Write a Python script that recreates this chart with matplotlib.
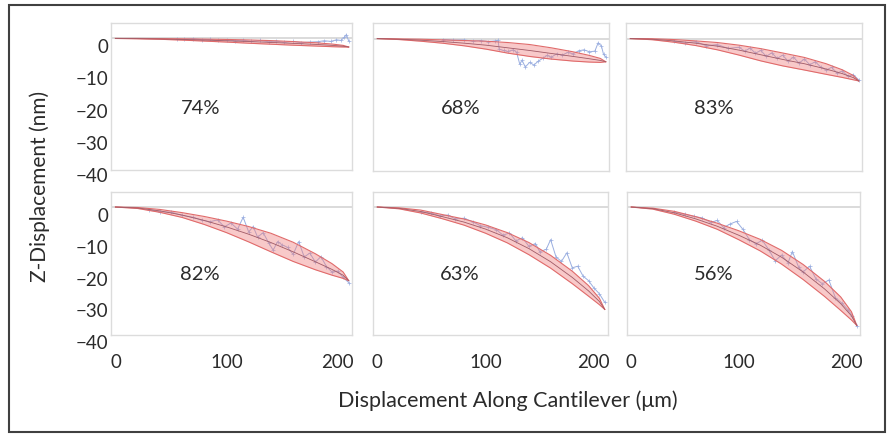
import matplotlib
matplotlib.use("Agg")
import matplotlib.pyplot as plt
from matplotlib.patches import Rectangle

W, H = 894, 434

# shared x grid for the fitted envelope (um)
fit_x = [0, 20, 40, 60, 80, 100, 120, 140, 160, 180, 195, 205, 210]

# envelope upper / lower bounds and centre fit per panel (nm)
upper_74 = [0, 0, -0.05, -0.1, -0.2, -0.3, -0.45, -0.65, -0.95, -1.3, -1.7, -2.1, -2.6]
lower_74 = [0, -0.1, -0.25, -0.5, -0.8, -1.1, -1.45, -1.75, -2.05, -2.3, -2.5, -2.6, -2.6]
mid_74 = [0, -0.05, -0.15, -0.3, -0.5, -0.7, -0.95, -1.2, -1.5, -1.8, -2.1, -2.35, -2.6]

upper_68 = [0, -0.1, -0.2, -0.4, -0.6, -0.8, -1.2, -1.8, -2.8, -4.0, -5.1, -6.0, -7.0]
lower_68 = [0, -0.3, -0.8, -1.4, -2.2, -3.2, -4.4, -5.4, -6.2, -6.8, -7.1, -7.2, -7.0]
mid_68 = [0, -0.2, -0.5, -0.9, -1.4, -2.0, -2.8, -3.6, -4.5, -5.4, -6.1, -6.6, -7.0]

upper_83 = [0, -0.05, -0.3, -0.7, -1.2, -2.0, -3.05, -4.35, -5.7, -7.6, -9.45, -11.15, -12.8]
lower_83 = [0, -0.35, -1.1, -2.1, -3.4, -5.0, -6.75, -8.25, -9.5, -10.8, -11.75, -12.45, -12.8]
mid_83 = [0, -0.2, -0.7, -1.4, -2.3, -3.5, -4.9, -6.3, -7.6, -9.2, -10.6, -11.8, -12.8]

upper_82 = [0, -0.15, -0.75, -1.75, -2.95, -4.4, -6.1, -8.2, -11.0, -14.6, -17.7, -20.3, -23.0]
lower_82 = [0, -0.45, -1.65, -3.25, -5.45, -8.0, -10.9, -14.0, -17.0, -19.6, -21.3, -22.3, -23.0]
mid_82 = [0, -0.3, -1.2, -2.5, -4.2, -6.2, -8.5, -11.1, -14.0, -17.1, -19.5, -21.3, -23.0]

upper_63 = [0, -0.25, -0.95, -2.35, -3.75, -5.6, -8.0, -11.1, -15.1, -20.05, -24.55, -28.5, -32.0]
lower_63 = [0, -0.55, -1.85, -3.65, -5.65, -8.2, -11.2, -14.9, -19.1, -23.95, -27.85, -30.5, -32.0]
mid_63 = [0, -0.4, -1.4, -3.0, -4.7, -6.9, -9.6, -13.0, -17.1, -22.0, -26.2, -29.5, -32.0]

upper_56 = [0, -0.35, -1.35, -3.0, -5.05, -7.4, -10.1, -13.55, -17.95, -23.25, -28.1, -32.7, -37.0]
lower_56 = [0, -0.65, -2.25, -4.4, -6.95, -10.2, -13.7, -17.85, -22.65, -27.95, -32.3, -35.3, -37.0]
mid_56 = [0, -0.5, -1.8, -3.7, -6.0, -8.8, -11.9, -15.7, -20.3, -25.6, -30.2, -34.0, -37.0]

# measured profiles (blue traces)
meas_x_74 = [55, 62, 70, 78, 85, 92, 100, 108, 115, 122, 130, 138, 145, 152, 160,
             167, 175, 182, 188, 194, 199, 203, 206, 208, 210]
meas_y_74 = [-0.2, -0.3, -0.1, -0.4, -0.3, -0.6, -0.4, -0.7, -0.5, -0.9, -0.6, -1.0,
             -0.8, -1.2, -0.9, -1.3, -1.1, -1.0, -0.7, -0.9, -0.4, -0.6, 0.3, 1.2, -0.8]

meas_x_68 = [60, 70, 80, 88, 95, 102, 108, 111, 112, 116, 120, 125, 128, 131, 133,
             136, 140, 144, 148, 152, 156, 160, 165, 170, 175, 180, 185, 190, 195,
             200, 203, 206, 208, 210]
meas_y_68 = [-0.3, -0.5, -0.4, -0.8, -0.6, -0.9, -0.7, -0.5, -3.2, -3.6, -3.9, -3.4,
             -4.1, -7.8, -6.5, -8.6, -7.2, -8.0, -6.8, -6.0, -5.1, -5.6, -4.6, -5.0,
             -4.2, -4.6, -3.7, -3.4, -4.0, -3.8, -1.3, -2.2, -4.8, -5.5]

meas_x_83 = [40, 50, 60, 70, 80, 90, 100, 105, 110, 115, 120, 125, 130, 135, 140,
             145, 150, 155, 160, 165, 170, 175, 180, 185, 190, 195, 200, 205, 210]
meas_y_83 = [-0.8, -1.4, -0.9, -2.2, -1.8, -3.0, -2.6, -3.8, -2.9, -4.4, -3.6, -5.4,
             -4.3, -6.0, -5.0, -6.8, -5.6, -7.4, -6.2, -7.9, -7.0, -8.6, -9.5, -8.7,
             -10.4, -9.8, -11.4, -10.9, -12.5]

meas_x_82 = [30, 40, 50, 60, 70, 78, 85, 92, 98, 104, 110, 115, 120, 124, 128, 133,
             138, 142, 146, 150, 155, 160, 165, 170, 175, 180, 185, 190, 195, 200,
             205, 210]
meas_y_82 = [-0.8, -1.5, -1.6, -2.6, -3.2, -4.1, -4.6, -4.0, -6.2, -5.0, -6.9, -3.2,
             -7.8, -6.1, -9.4, -8.0, -11.2, -13.5, -10.8, -11.8, -12.6, -14.8, -10.8,
             -15.6, -14.4, -17.2, -15.5, -18.6, -20.3, -20.0, -22.0, -23.6]

meas_x_63 = [40, 50, 58, 65, 72, 80, 88, 95, 102, 110, 116, 122, 128, 134, 140, 146,
             150, 156, 160, 165, 170, 175, 180, 185, 190, 195, 200, 205, 210]
meas_y_63 = [-1.4, -1.9, -2.8, -2.5, -3.7, -3.5, -4.6, -5.8, -6.3, -7.1, -8.8, -8.1,
             -10.6, -9.6, -12.3, -11.4, -14.0, -13.2, -10.2, -15.6, -17.0, -14.3,
             -19.0, -18.5, -21.6, -23.0, -25.3, -27.1, -29.8]

meas_x_56 = [40, 50, 58, 66, 74, 80, 86, 92, 98, 104, 110, 116, 122, 128, 134, 140,
             146, 150, 156, 160, 166, 172, 178, 184, 190, 196, 202, 206, 210]
meas_y_56 = [-1.5, -2.3, -2.9, -3.4, -4.8, -4.2, -6.4, -5.3, -4.5, -7.0, -10.2, -11.5,
             -10.4, -13.3, -16.8, -15.0, -17.4, -13.9, -18.9, -20.3, -18.5, -22.5,
             -24.0, -22.8, -28.3, -30.0, -32.2, -34.0, -37.2]

fit_labels = ["74%", "68%", "83%", "82%", "63%", "56%"]
y_ticks = [0, -10, -20, -30, -40]
x_ticks = [0, 100, 200]

PANELS = [
    (upper_74, lower_74, mid_74, meas_x_74, meas_y_74),
    (upper_68, lower_68, mid_68, meas_x_68, meas_y_68),
    (upper_83, lower_83, mid_83, meas_x_83, meas_y_83),
    (upper_82, lower_82, mid_82, meas_x_82, meas_y_82),
    (upper_63, lower_63, mid_63, meas_x_63, meas_y_63),
    (upper_56, lower_56, mid_56, meas_x_56, meas_y_56),
]

# panel boxes in pixels (left, top, right, bottom)
BOXES = [
    (111, 23, 352, 170), (373, 23, 609, 171), (626, 23, 862, 171),
    (111, 192, 352, 335), (373, 192, 608, 335), (627, 192, 860, 335),
]

FONT = "Lato"
TXT = "#2b2b2b"


def px_box(x0, y0, x1, y1):
    return [x0 / W, 1 - y1 / H, (x1 - x0) / W, (y1 - y0) / H]


def draw_panel(ax, data, label, bottom_row):
    upper, lower, mid, mx, my = data
    ax.axhline(0, color="#d4d4d4", lw=1.2, zorder=1)
    ax.plot(mx, my, color="#9aaee0", lw=0.7, marker="+", ms=2.5, mew=0.5, zorder=2)
    ax.fill_between(fit_x, upper, lower, color="#f08080", alpha=0.42, lw=0, zorder=3)
    ax.plot(fit_x, upper, color="#e06a6a", lw=0.8, zorder=4)
    ax.plot(fit_x, lower, color="#e06a6a", lw=0.8, zorder=4)
    ax.plot(fit_x, mid, color="#a05a66", lw=0.6, zorder=4)
    ax.text(0.37, 0.42, label, transform=ax.transAxes, ha="center", va="center",
            fontsize=14.5, family=FONT, color=TXT)
    ax.set_xlim(-4, 213)
    ax.set_ylim(-40, 4.7)
    for s in ax.spines.values():
        s.set_color("#dcdcdc")
        s.set_linewidth(1.0)
    ax.set_yticks([])
    if bottom_row:
        ax.set_xticks(x_ticks)
        ax.tick_params(axis="x", length=0, pad=14, labelsize=13.5, labelcolor=TXT)
        for t in ax.get_xticklabels():
            t.set_family(FONT)
    else:
        ax.set_xticks([])


def main():
    fig = plt.figure(figsize=(W / 100, H / 100), dpi=100)
    fig.patches.append(Rectangle((9 / W, 1 - 432 / H), 876 / W, 427 / H,
                                 transform=fig.transFigure, fill=False,
                                 edgecolor="#404040", lw=1.5))

    for i, (data, box) in enumerate(zip(PANELS, BOXES)):
        ax = fig.add_axes(px_box(*box))
        draw_panel(ax, data, fit_labels[i], bottom_row=i >= 3)

    # y tick labels sit on their own axes, slightly offset from the panels
    for top, bot in [(46, 175), (215, 342)]:
        lab = fig.add_axes(px_box(111, top, 112, bot))
        lab.set_ylim(-40, 0)
        lab.set_yticks(y_ticks)
        lab.set_xticks([])
        lab.tick_params(axis="y", length=0, pad=2, labelsize=13.5, labelcolor=TXT)
        for t in lab.get_yticklabels():
            t.set_family(FONT)
        for s in lab.spines.values():
            s.set_visible(False)
        lab.patch.set_visible(False)

    fig.text(508 / W, 1 - 401 / H, "Displacement Along Cantilever (\u03bcm)",
             ha="center", va="center", fontsize=15.5, family=FONT, color=TXT)
    fig.text(40 / W, 1 - 186 / H, "Z-Displacement (nm)", rotation=90,
             ha="center", va="center", fontsize=15, family=FONT, color=TXT)

    fig.savefig("out.png", dpi=100)
    plt.close(fig)


if __name__ == "__main__":
    main()
